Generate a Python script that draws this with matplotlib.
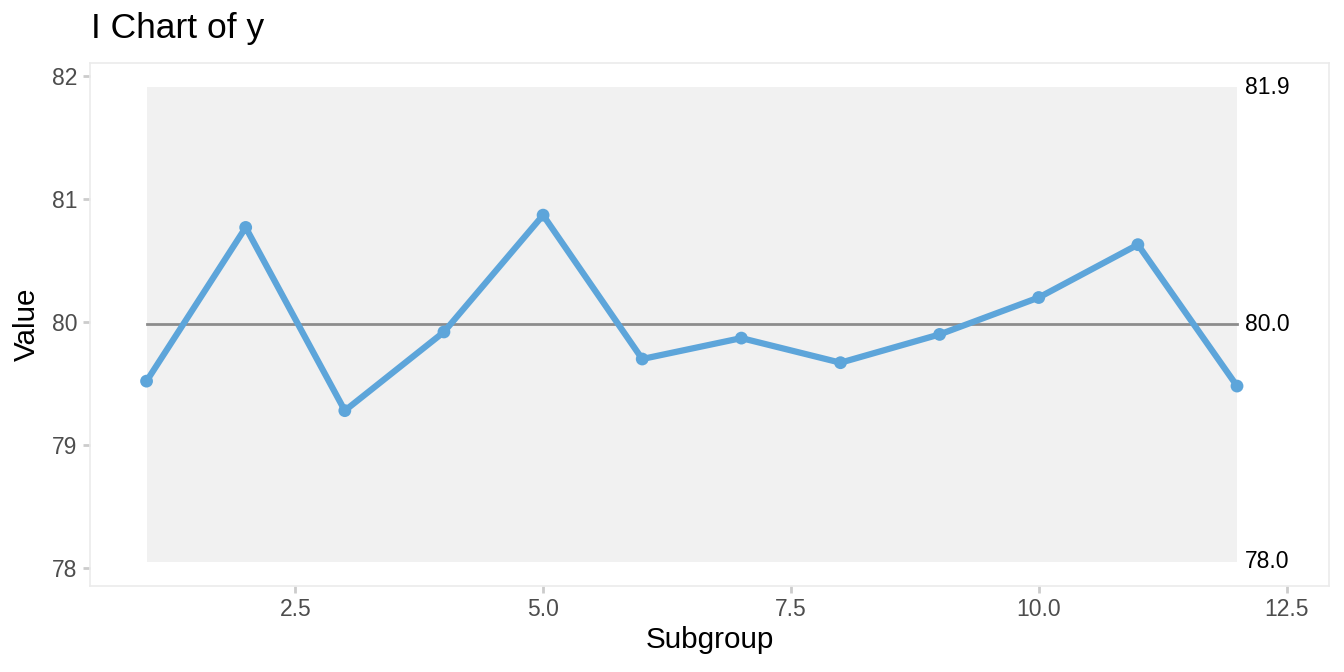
import matplotlib.pyplot as plt

plt.rcParams['font.family'] = ['Liberation Sans', 'DejaVu Sans']

# Individual values per subgroup
subgroup = [1, 2, 3, 4, 5, 6, 7, 8, 9, 10, 11, 12]
values = [79.52, 80.77, 79.28, 79.92, 80.87, 79.70, 79.87, 79.67, 79.90, 80.20, 80.63, 79.48]

center = 79.984
lcl = 78.05
ucl = 81.91
limit_labels = ['81.9', '80.0', '78.0']

fig = plt.figure(figsize=(13.44, 6.72), dpi=100)
ax = fig.add_axes([0.067, 0.128, 0.922, 0.778])

# control limit band
ax.fill_between([subgroup[0], subgroup[-1]], lcl, ucl, color='#F1F1F1', lw=0, zorder=0)
ax.plot([subgroup[0], subgroup[-1]], [center, center], color='#8C8C8C', lw=2, zorder=1)

ax.plot(subgroup, values, color='#5DA5DA', lw=4.5, zorder=2, solid_capstyle='round')
ax.scatter(subgroup, values, color='#5DA5DA', s=85, zorder=3, edgecolors='none')

# limit labels on the right
for yv, lab in zip([ucl, center, lcl], limit_labels):
    ax.text(subgroup[-1] + 0.08, yv, lab, fontsize=16.5, color='black', va='center', ha='left')

ax.set_xlim(0.43, 12.93)
ax.set_ylim(77.854, 82.106)
ax.set_xticks([2.5, 5.0, 7.5, 10.0, 12.5])
ax.set_xticklabels(['2.5', '5.0', '7.5', '10.0', '12.5'])
ax.set_yticks([78, 79, 80, 81, 82])

for s in ax.spines.values():
    s.set_color('#EBEBEB')
    s.set_linewidth(1.2)
ax.tick_params(colors='#CCCCCC', length=5, width=2, labelsize=16.5, labelcolor='#4D4D4D', pad=4)

ax.set_xlabel('Subgroup', fontsize=21.3, labelpad=3)
ax.set_ylabel('Value', fontsize=21.3, labelpad=8)
ax.set_title('I Chart of y', fontsize=25.5, loc='left', x=0.001, pad=18)

fig.savefig('out.png', dpi=100)
